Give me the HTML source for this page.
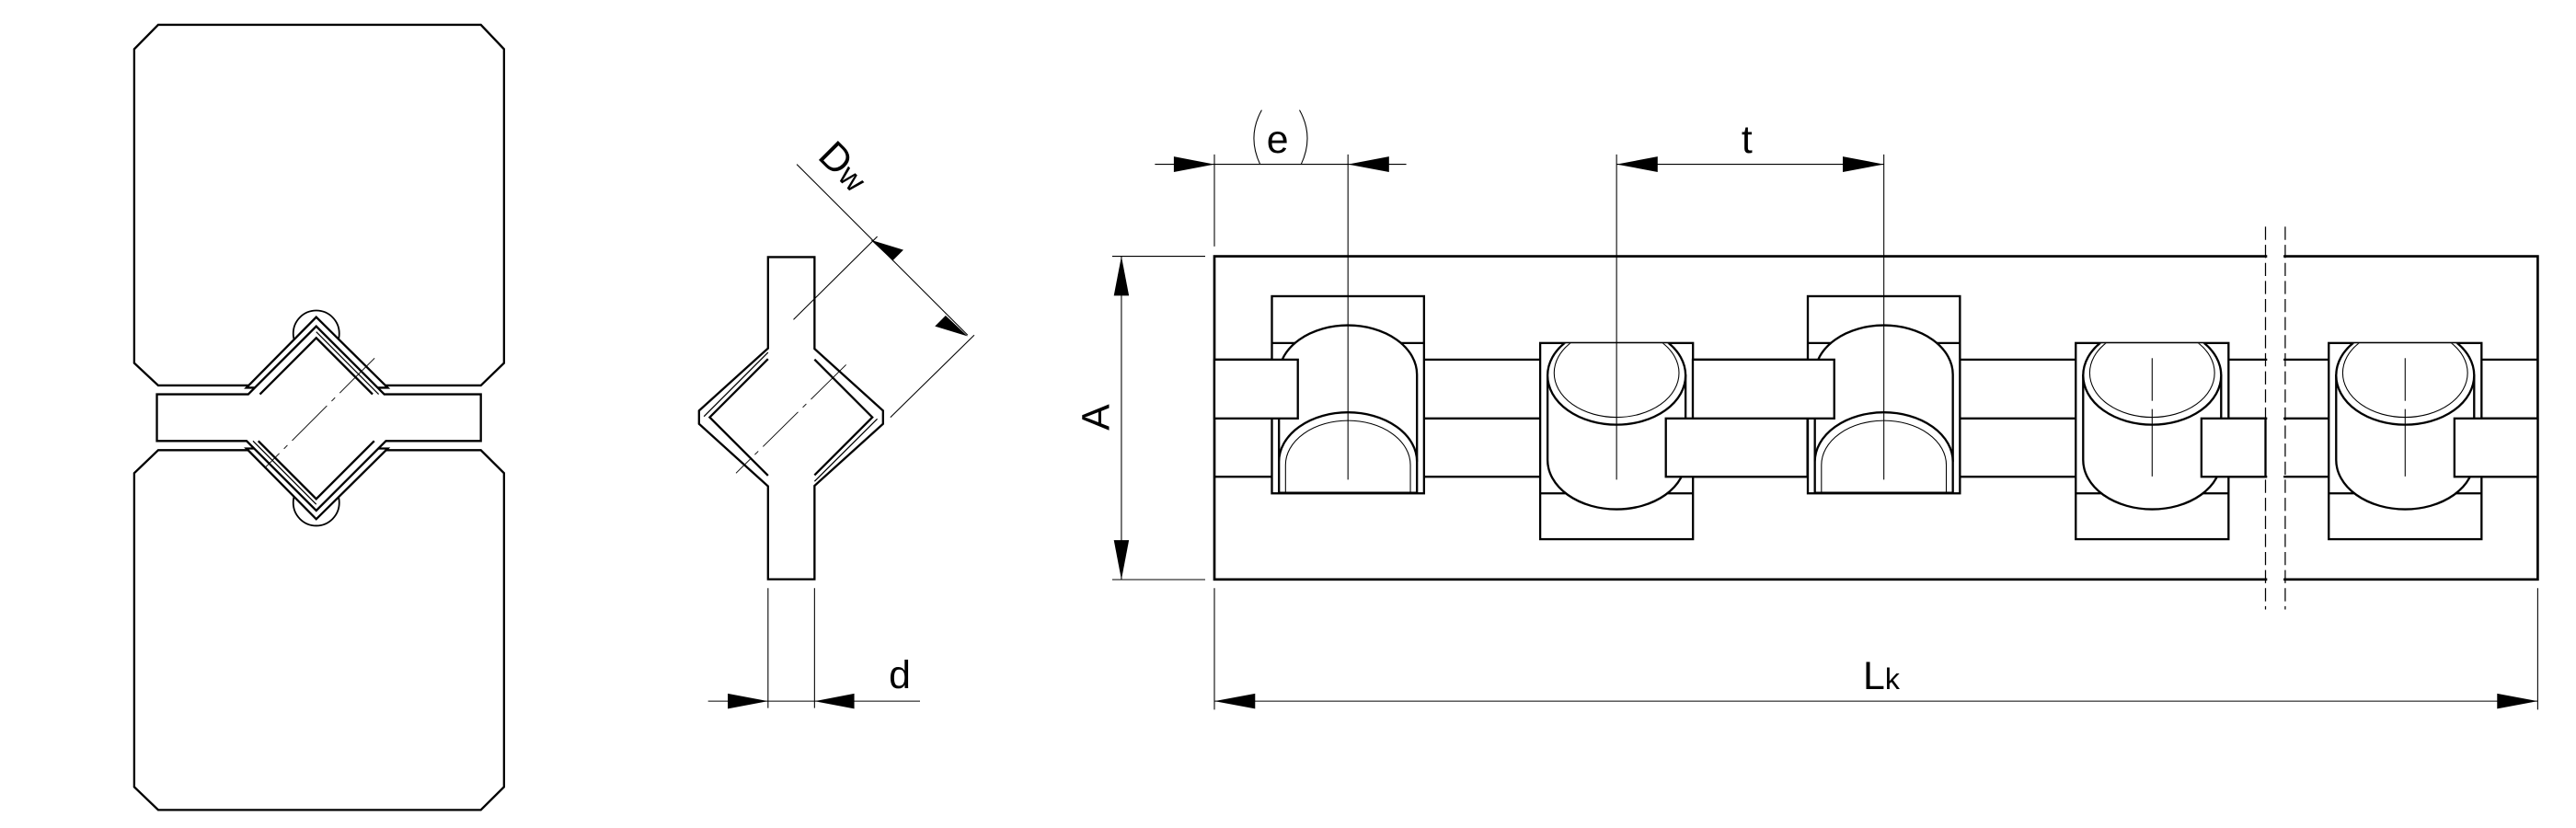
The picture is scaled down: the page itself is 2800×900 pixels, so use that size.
<!DOCTYPE html>
<html><head><meta charset="utf-8"><style>
html,body{margin:0;padding:0;background:#fff}
svg{display:block}
text{font-family:"Liberation Sans",sans-serif;fill:#000}
</style></head><body>
<svg width="2800" height="900" viewBox="0 0 1568 504" xmlns="http://www.w3.org/2000/svg">
<defs>
<clipPath id="clipB"><rect x="-60" y="209" width="120" height="120"/></clipPath>
<g id="rollA">
 <path d="M-42,281 V228 A42,30 0 0 1 42,228 V281" fill="#fff" stroke="#000" stroke-width="1.3"/>
 <path d="M-42,300 V281 A42,30 0 0 1 42,281 V300 Z" fill="#fff" stroke="#000" stroke-width="1.3"/>
 <path d="M-38,300 V283 A38,27 0 0 1 38,283 V300" fill="none" stroke="#000" stroke-width="0.6"/>
</g>
<g id="rollB">
 <path d="M-42,228 V280 A42,30 0 0 0 42,280 V228" fill="#fff" stroke="#000" stroke-width="1.3"/>
 <g clip-path="url(#clipB)">
  <ellipse cx="0" cy="228.5" rx="42" ry="30" fill="#fff" stroke="#000" stroke-width="1.3"/>
  <ellipse cx="0" cy="227" rx="38" ry="27" fill="none" stroke="#000" stroke-width="0.6"/>
 </g>
</g>
<g id="pocketA"><rect x="-46.3" y="180.3" width="92.6" height="120" fill="#fff" stroke="#000" stroke-width="1.3"/>
 <line x1="-46.3" y1="208.8" x2="46.3" y2="208.8" stroke="#000" stroke-width="1.3"/></g>
<g id="pocketB"><rect x="-46.5" y="208.8" width="93" height="119.4" fill="#fff" stroke="#000" stroke-width="1.3"/>
 <line x1="-46.5" y1="300.3" x2="46.5" y2="300.3" stroke="#000" stroke-width="1.3"/></g>
</defs>

<g stroke="#000" stroke-width="1.3" fill="#fff">
<path d="M96.3,15.1 H292.7 L306.8,29.9 V221 L292.7,234.6 H96.3 L81.7,221 V29.9 Z"/>
<path d="M96.3,274 H292.7 L306.8,288 V479 L292.7,493 H96.3 L81.7,479 V288 Z"/>
<circle cx="192.5" cy="203" r="14" stroke-width="1"/>
<circle cx="192.5" cy="306" r="14" stroke-width="1"/>
<path d="M150,236 L192.5,193 L236,236 Z"/>
<path d="M150,273 L192.5,316 L236,273 Z"/>
<path d="M95.5,240 H151.1 L192.5,198.6 L233.9,240 H292.7 V268.4 H234.9 L192.5,310.8 L150.1,268.4 H95.5 Z"/>
<path d="M158.2,240 L192.5,205.7 L226.8,240" fill="none"/>
<path d="M157.2,268.4 L192.5,303.7 L227.8,268.4" fill="none"/>
<path d="M192.5,202 L230.5,240 M154,268.4 L192.5,307" fill="none" stroke-width="0.7"/>
<line x1="228" y1="218" x2="161" y2="285" stroke-width="0.5" stroke-dasharray="30,4,3,4"/>

<path d="M467.5,156.5 H495.8 V212.3 L537.5,250 V258 L495.8,295.7 V352.6 H467.5 V296 L425.5,258 V250 L467.5,212 Z"/>
<path d="M467.5,218.5 L432,254 L467.5,289.5 M495.8,218.8 L531,254 L495.8,289.2" fill="none"/>
<path d="M467.5,214.5 L428.5,253.5 M495.8,293 L534,255" fill="none" stroke-width="0.7"/>
<line x1="515" y1="222" x2="448" y2="288" stroke-width="0.5" stroke-dasharray="30,4,3,4"/>
</g>
<g stroke="#000" stroke-width="0.6" fill="none">
<line x1="483" y1="194.5" x2="534" y2="144"/>
<line x1="542" y1="254" x2="593" y2="204"/>
<line x1="485" y1="100" x2="589" y2="204"/>
<line x1="467.5" y1="358" x2="467.5" y2="431"/>
<line x1="495.8" y1="358" x2="495.8" y2="431"/>
<line x1="431" y1="426.8" x2="560" y2="426.8"/>
</g>
<g fill="#000">
<polygon points="530,146 543.4,158.6 549.9,152.1"/>
<polygon points="589,204.7 575.6,192.1 569.1,198.6"/>
<polygon points="467.5,426.8 443,422.2 443,431.4"/>
<polygon points="495.8,426.8 520,422.2 520,431.4"/>
</g>
<text x="0" y="0" font-size="24" transform="translate(497,96) rotate(45)">D<tspan font-size="19">w</tspan></text>
<text x="541" y="419" font-size="24">d</text>

<g stroke="#000" stroke-width="1.3" fill="none">
<rect x="739.2" y="156" width="805.5" height="196.7" fill="#fff" stroke-width="1.5"/>
<line x1="739.2" y1="218.9" x2="1544.7" y2="218.9"/>
<line x1="739.2" y1="254.7" x2="1544.7" y2="254.7"/>
<line x1="739.2" y1="290.2" x2="1544.7" y2="290.2"/>
</g>
<g>
<use href="#pocketA" x="820.5"/>
<use href="#pocketB" x="984"/>
<use href="#pocketA" x="1146.7"/>
<use href="#pocketB" x="1310"/>
<use href="#pocketB" x="1464"/>
</g>
<use href="#rollA" x="820.5"/>
<use href="#rollB" x="984"/>
<use href="#rollA" x="1146.7"/>
<use href="#rollB" x="1310"/>
<use href="#rollB" x="1464"/>
<g stroke="#000" stroke-width="1.3" fill="#fff">
<rect x="739.2" y="218.9" width="50.8" height="35.8"/>
<rect x="1014" y="254.7" width="86.2" height="35.5"/>
<rect x="1030.4" y="218.9" width="86.1" height="35.8"/>
<rect x="1340" y="254.7" width="39" height="35.5"/>
<rect x="1494" y="254.7" width="50.7" height="35.5"/>
</g>
<rect x="1380" y="140" width="10" height="230" fill="#fff"/>
<g stroke="#000" stroke-width="0.7" stroke-dasharray="8,3">
<line x1="1379" y1="138" x2="1379" y2="371"/>
<line x1="1391" y1="138" x2="1391" y2="371"/>
</g>
<g stroke="#000" stroke-width="0.6" fill="none">
<line x1="820.5" y1="94" x2="820.5" y2="292"/>
<line x1="984" y1="94" x2="984" y2="292"/>
<line x1="1146.7" y1="94" x2="1146.7" y2="292"/>
<line x1="1310" y1="218" x2="1310" y2="244"/>
<line x1="1310" y1="249" x2="1310" y2="290"/>
<line x1="1464" y1="218" x2="1464" y2="244"/>
<line x1="1464" y1="249" x2="1464" y2="290"/>
<line x1="739.2" y1="94" x2="739.2" y2="150"/>
<line x1="739.2" y1="358" x2="739.2" y2="432"/>
<line x1="1544.7" y1="358" x2="1544.7" y2="432"/>
<line x1="703" y1="100" x2="856" y2="100"/>
<line x1="984" y1="100" x2="1146.7" y2="100"/>
<line x1="677" y1="156" x2="733.6" y2="156"/>
<line x1="677" y1="352.8" x2="733.6" y2="352.8"/>
<line x1="682.6" y1="156" x2="682.6" y2="352.8"/>
<line x1="739.2" y1="426.8" x2="1544.7" y2="426.8"/>
<path d="M768,67 Q759,83 767,100 M791,67 Q800,83 792,100"/>
</g>
<g fill="#000">
<polygon points="739.2,100 714.5,95.3 714.5,104.7"/>
<polygon points="820.5,100 845.5,95.3 845.5,104.7"/>
<polygon points="984,100 1009,95.3 1009,104.7"/>
<polygon points="1146.7,100 1121.7,95.3 1121.7,104.7"/>
<polygon points="682.6,156 678,180 687.2,180"/>
<polygon points="682.6,352.8 678,328.8 687.2,328.8"/>
<polygon points="739.2,426.8 764,422.2 764,431.4"/>
<polygon points="1544.7,426.8 1520,422.2 1520,431.4"/>
</g>
<text x="771" y="93" font-size="24">e</text>
<text x="1060" y="93" font-size="24">t</text>
<text x="1134" y="419.5" font-size="24">L<tspan font-size="18">k</tspan></text>
<text x="0" y="0" font-size="24" transform="translate(675,262) rotate(-90)">A</text>
</svg>
</body></html>
